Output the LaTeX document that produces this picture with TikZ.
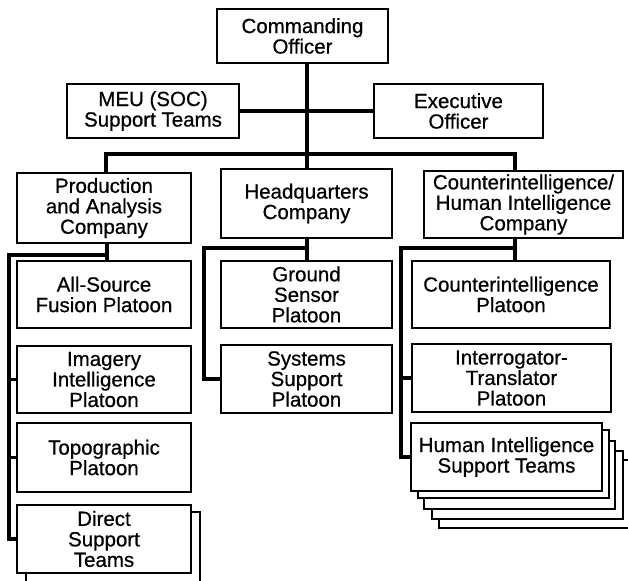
\documentclass[tikz,border=0pt]{standalone}
\usepackage{fontspec}
\setmainfont{Liberation Sans}
\newfontfamily\boxfont[FakeBold=0.6]{Liberation Sans}
\usetikzlibrary{calc}
\begin{document}
\begin{tikzpicture}[x=1pt,y=-1pt,
  box/.style={draw=black,fill=white,line width=1.6pt,inner sep=0pt,align=center,
    font=\boxfont\fontsize{20.5}{20.5}\selectfont},
  stackbox/.style={draw=black,fill=white,line width=1.6pt},
  conn/.style={draw=black,line width=3.2pt,line cap=rect,line join=miter}]
\useasboundingbox (0,0) rectangle (628,580);
\clip (0,0) rectangle (628,580);
% boxes: top level
\node[box,minimum width=171pt,minimum height=54pt] (co) at (302.5,36) {Commanding\\Officer};
\node[box,minimum width=172pt,minimum height=54pt] (meu) at (153,111) {MEU (SOC)\\Support Teams};
\node[box,minimum width=169pt,minimum height=54pt] (xo) at (458.5,111) {Executive\\Officer};
% companies
\node[box,minimum width=174pt,minimum height=70pt] (pa) at (104,208) {Production\\and Analysis\\Company};
\node[box,minimum width=171pt,minimum height=69pt] (hq) at (306.5,203.5) {Headquarters\\Company};
\node[box,minimum width=199pt,minimum height=67pt] (ci) at (523.5,204.5) {Counterintelligence/\\Human Intelligence\\Company};
% production platoons
\node[box,minimum width=174pt,minimum height=67pt] (as) at (104,294.5) {All-Source\\Fusion Platoon};
\node[box,minimum width=174pt,minimum height=67pt] (imi) at (104,379.5) {Imagery\\Intelligence\\Platoon};
\node[box,minimum width=174pt,minimum height=69pt] (topo) at (104,457.5) {Topographic\\Platoon};
\draw[stackbox] (26,512) rectangle (200,595);
\node[box,minimum width=174pt,minimum height=68pt] (dst) at (104,539) {Direct\\Support\\Teams};
% HQ platoons
\node[box,minimum width=171pt,minimum height=67pt] (gs) at (306.5,294.5) {Ground\\Sensor\\Platoon};
\node[box,minimum width=171pt,minimum height=68pt] (ss) at (306.5,379) {Systems\\Support\\Platoon};
% CI platoons
\node[box,minimum width=198pt,minimum height=67pt] (cip) at (511,294.5) {Counterintelligence\\Platoon};
\node[box,minimum width=199pt,minimum height=68pt] (it) at (511.5,378) {Interrogator-\\Translator\\Platoon};
\foreach \dx/\dy in {28/37,21/28,13/18,7/7}{
  \draw[stackbox] ($(411,423)+(\dx,\dy)$) rectangle ($(602,491)+(\dx,\dy)$);
}
\node[box,minimum width=191pt,minimum height=68pt] (hist) at (506.5,457) {Human Intelligence\\Support Teams};
% junction coordinates
\coordinate (bar) at (307,154);
\coordinate (barL) at (106,154);
\coordinate (barR) at (515,154);
\coordinate (pj) at (107,255);
\coordinate (pl) at (9,255);
\coordinate (hj) at (307,248);
\coordinate (hl) at (204,248);
\coordinate (cj) at (515,248);
\coordinate (cl) at (401,248);
% connectors
\draw[conn] (co.south -| bar) -- (bar);
\draw[conn] (meu.east) -- (xo.west);
\draw[conn] (pa.north -| barL) -- (barL) -- (barR) -- (ci.north -| barR);
\draw[conn] (bar) -- (hq.north -| bar);
\draw[conn] (pa.south -| pj) -- (as.north -| pj);
\draw[conn] (pj) -- (pl) -- (pl |- dst.west) -- (dst.west);
\draw[conn] (pl |- imi.west) -- (imi.west);
\draw[conn] (pl |- topo.west) -- (topo.west);
\draw[conn] (hq.south -| hj) -- (gs.north -| hj);
\draw[conn] (hj) -- (hl) -- (hl |- ss.west) -- (ss.west);
\draw[conn] (ci.south -| cj) -- (cip.north -| cj);
\draw[conn] (cj) -- (cl) -- (cl |- hist.west) -- (hist.west);
\draw[conn] (cl |- it.west) -- (it.west);
\end{tikzpicture}
\end{document}
